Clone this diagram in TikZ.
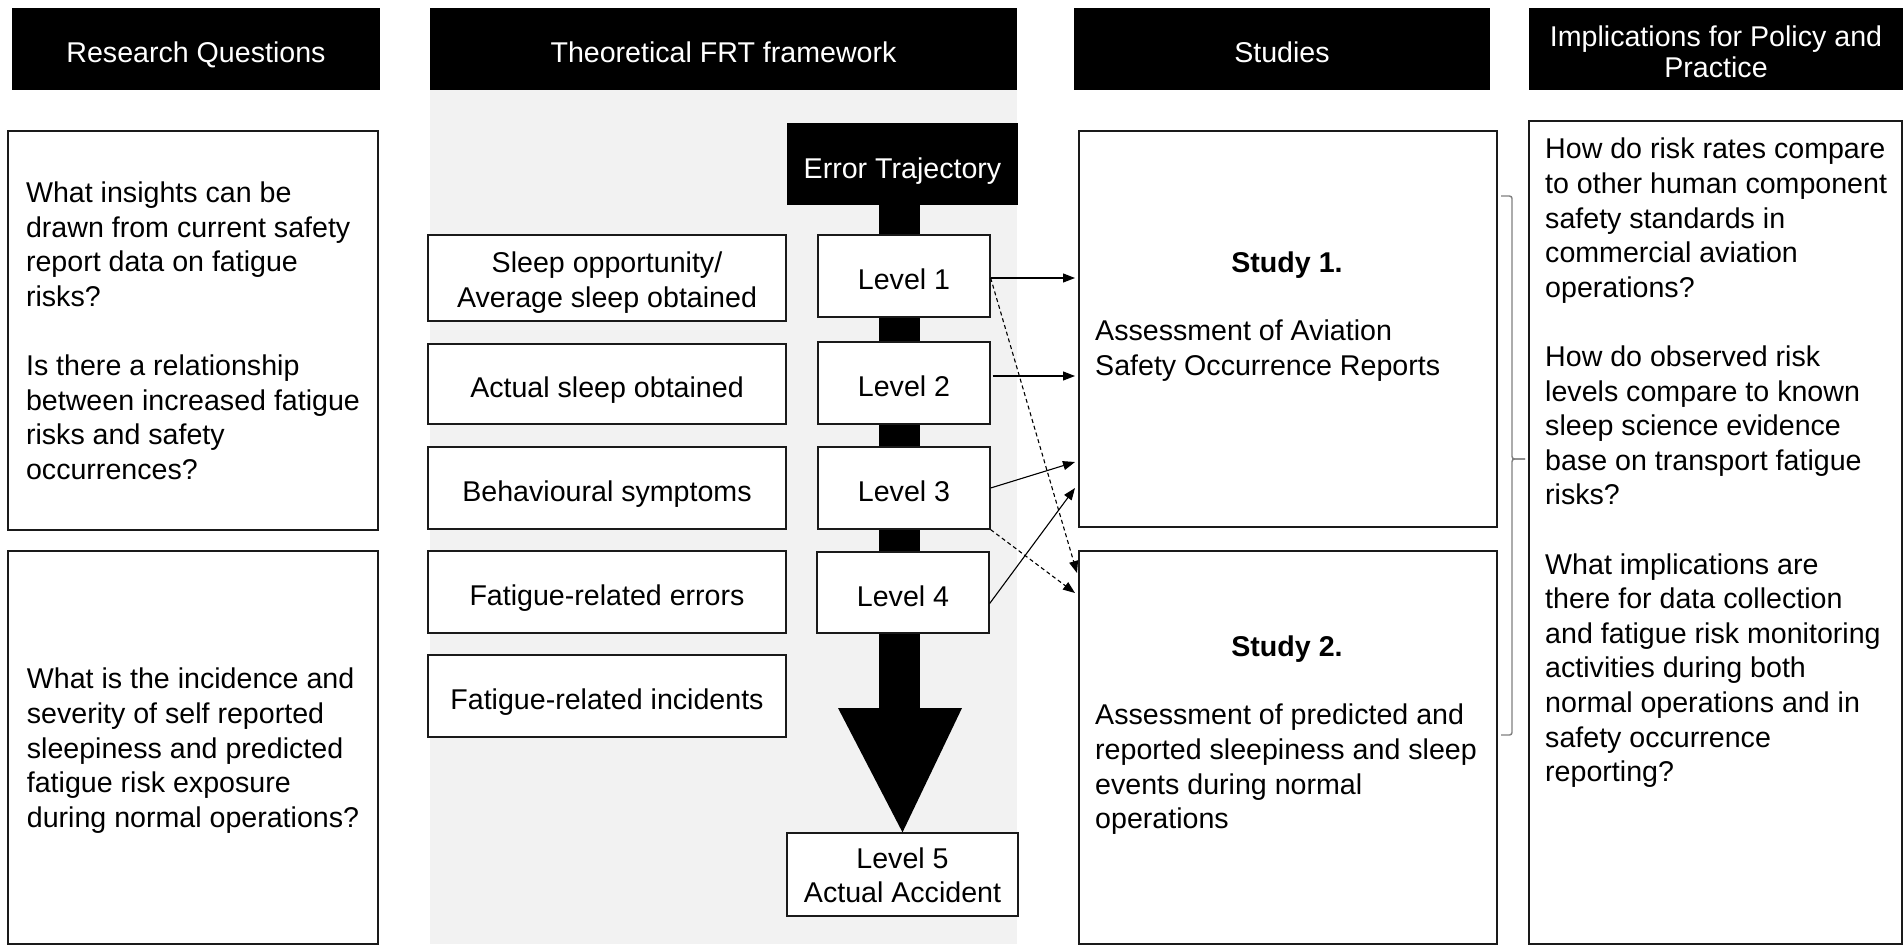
\documentclass[tikz,border=0pt]{standalone}
\usepackage{fontspec}
\setmainfont{Liberation Sans}
\usetikzlibrary{arrows.meta,calc}
\definecolor{bggray}{HTML}{F2F2F2}
\definecolor{brgray}{HTML}{7F7F7F}
\definecolor{edge}{HTML}{1A1A1A}
\newcommand{\tstrut}{\rule[-10.4pt]{0pt}{34.6pt}}
\newcommand{\topstrut}{\rule{0pt}{33.5pt}}
\newcommand{\htopstrut}{\rule{0pt}{34.5pt}}
\newcommand{\hfourstrut}{\rule{0pt}{30.2pt}}
\newcommand{\botstrut}{\rule[-6.5pt]{0pt}{6.5pt}}
\newcommand{\nostrut}{}
\tikzset{
  fnt/.style={font=\fontsize{28.6}{34.6}\selectfont},
  hdr/.style={fill=black, text=white, inner sep=0pt, fnt, align=center, execute at begin node=\htopstrut, execute at end node=\botstrut},
  box/.style={draw=edge, line width=1.3pt, fill=white, inner sep=0pt, fnt, align=center, execute at begin node=\topstrut, execute at end node=\botstrut},
  boxtext/.style={inner sep=0pt, fnt, align=center, execute at begin node=\topstrut, execute at end node=\botstrut},
  frame/.style={draw=edge, line width=1.3pt, fill=white, inner sep=0pt},
  txt/.style={inner sep=0pt, fnt, align=left, execute at begin node=\tstrut, execute at end node=\tstrut},
  arr/.style={line width=1.1pt, -{Triangle[length=12pt,width=9pt]}},
  darr/.style={arr, dash pattern=on 4pt off 3pt},
}
\begin{document}
\begin{tikzpicture}[x=1pt,y=-1pt]
\useasboundingbox (0,0) rectangle (1903,947);
% gray background of framework column
\fill[bggray] (430,90) rectangle (1017,944);
% headers
\node[hdr, minimum width=368pt, minimum height=82pt] (h1) at (196,49) {Research Questions};
\node[hdr, minimum width=587pt, minimum height=82pt] (h2) at (723.5,49) {Theoretical FRT framework};
\node[hdr, minimum width=416pt, minimum height=82pt] (h3) at (1282,49) {Studies};
\node[fill=black, minimum width=374pt, minimum height=82pt, inner sep=0pt] (h4) at (1716,49) {};
\node[boxtext, text=white, font=\fontsize{28.6}{31}\selectfont, execute at begin node=\hfourstrut, execute at end node=\nostrut] (h4t) at (1716,55) {Implications for Policy and\\Practice};
% research questions
\node[frame, minimum width=370pt, minimum height=399pt] (rq1) at (193,330.5) {};
\node[frame, minimum width=370pt, minimum height=393pt] (rq2) at (193,747.5) {};
\node[txt] (rq1t) at (193,336) {What insights can be\\drawn from current safety\\report data on fatigue\\risks?\\[34.6pt]Is there a relationship\\between increased fatigue\\risks and safety\\occurrences?};
\node[txt] (rq2t) at (193,753) {What is the incidence and\\severity of self reported\\sleepiness and predicted\\fatigue risk exposure\\during normal operations?};
% big trajectory arrow
\node[hdr, minimum width=231pt, minimum height=82pt, execute at begin node=\topstrut] (et) at (902.5,164) {Error Trajectory};
\node[frame, minimum width=231pt, minimum height=83pt] (l5) at (902.5,874.5) {};
\node[boxtext] (l5t) at (902.5,878.5) {Level 5\\Actual Accident};
\fill[black] (879,205) rectangle (920,709);
\fill[black] (838,708) -- (962,708) -- (l5.north) -- cycle;
% framework boxes
\node[frame, minimum width=358pt, minimum height=86pt] (f1) at (607,278) {};
\node[boxtext] (f1t) at (607,283) {Sleep opportunity/\\Average sleep obtained};
\node[box, minimum width=358pt, minimum height=80pt] (f2) at (607,384) {Actual sleep obtained};
\node[box, minimum width=358pt, minimum height=82pt] (f3) at (607,488) {Behavioural symptoms};
\node[box, minimum width=358pt, minimum height=82pt] (f4) at (607,592) {Fatigue-related errors};
\node[box, minimum width=358pt, minimum height=82pt] (f5) at (607,696) {Fatigue-related incidents};
% levels
\node[box, minimum width=172pt, minimum height=82pt] (l1) at (904,276) {Level 1};
\node[box, minimum width=172pt, minimum height=82pt] (l2) at (904,383) {Level 2};
\node[box, minimum width=172pt, minimum height=82pt] (l3) at (904,488) {Level 3};
\node[box, minimum width=172pt, minimum height=81pt] (l4) at (903,592.5) {Level 4};
% studies
\node[frame, minimum width=418pt, minimum height=396pt] (s1) at (1288,329) {};
\node[frame, minimum width=418pt, minimum height=393pt] (s2) at (1288,747.5) {};
\node[inner sep=0pt, anchor=base, font=\fontsize{28.6}{34.6}\selectfont\bfseries] (s1t) at (1287,272) {Study 1.};
\node[txt, anchor=north west] (s1b) at (1095,320) {Assessment of Aviation\\Safety Occurrence Reports};
\node[inner sep=0pt, anchor=base, font=\fontsize{28.6}{34.6}\selectfont\bfseries] (s2t) at (1287,656) {Study 2.};
\node[txt, anchor=north west] (s2b) at (1095,704) {Assessment of predicted and\\reported sleepiness and sleep\\events during normal\\operations};
% implications
\node[frame, minimum width=373pt, minimum height=823pt] (imp) at (1715.5,532.5) {};
\node[txt, anchor=north west] (impt) at (1545,138) {How do risk rates compare\\to other human component\\safety standards in\\commercial aviation\\operations?\\[34.6pt]How do observed risk\\levels compare to known\\sleep science evidence\\base on transport fatigue\\risks?\\[34.6pt]What implications are\\there for data collection\\and fatigue risk monitoring\\activities during both\\normal operations and in\\safety occurrence\\reporting?};
% brace
\draw[brgray, line width=1.4pt, rounded corners=2.5pt] (1501,196) -- (1512,196) -- (1512,459) -- (1525,459);
\draw[brgray, line width=1.4pt, rounded corners=2.5pt] (1525,459) -- (1512,459) -- (1512,735) -- (1501,735);
% connectors
\coordinate (t1) at (1075,278);
\coordinate (t2) at (1075,376);
\coordinate (t3) at (1075,462);
\coordinate (t4) at (1075,488);
\coordinate (t5) at (1077,573);
\coordinate (t6) at (1075,593);
\draw[arr] (l1.east |- t1) -- (t1);
\draw[arr] ($(l2.east)+(2,-7)$) -- (t2);
\draw[arr] (l3.east) -- (t3);
\draw[arr] ($(l4.east)+(0,11)$) -- (t4);
\draw[darr] (l1.east |- t1) -- (t5);
\draw[darr] (l3.south east) -- (t6);
\end{tikzpicture}
\end{document}
